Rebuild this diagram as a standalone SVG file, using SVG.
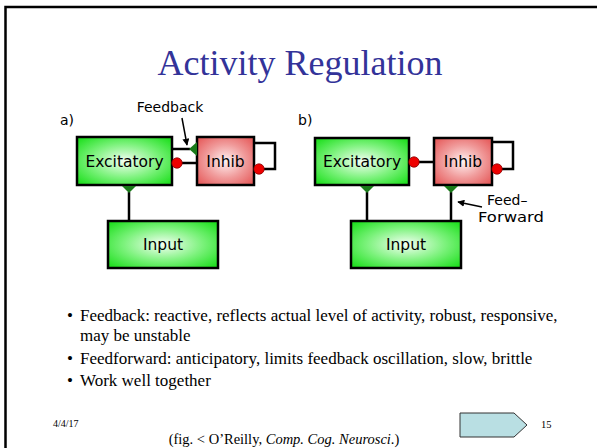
<svg xmlns="http://www.w3.org/2000/svg" width="597" height="448" viewBox="0 0 597 448">
<defs>
<radialGradient id="gG" cx="50%" cy="50%" r="65%">
<stop offset="0" stop-color="#f4fff4"/>
<stop offset="0.55" stop-color="#7cf27c"/>
<stop offset="1" stop-color="#22e022"/>
</radialGradient>
<radialGradient id="gR" cx="50%" cy="50%" r="65%">
<stop offset="0" stop-color="#fff2f2"/>
<stop offset="0.55" stop-color="#f09a9a"/>
<stop offset="1" stop-color="#e65c5c"/>
</radialGradient>
<marker id="ah" viewBox="0 0 10 10" refX="9" refY="5" markerWidth="7" markerHeight="7" orient="auto" markerUnits="userSpaceOnUse">
<path d="M0,0 L10,5 L0,10 Z" fill="#000"/>
</marker>
</defs>
<style>
.slide{font-family:"Liberation Serif","Times New Roman",serif;fill:#000}
.title{font-family:"Liberation Serif","Times New Roman",serif;font-size:36px;fill:#333399}
.lbl{font-family:"DejaVu Sans","Bitstream Vera Sans",sans-serif;fill:#000}
.box{stroke:#000;stroke-width:2.5}
.ln{stroke:#000;stroke-width:2.5;fill:none}
.tri{fill:#1a7a1a}
.dot{fill:#ee0000;stroke:#800;stroke-width:0.8}
</style>
<rect width="597" height="448" fill="#fff"/>
<path d="M5.5,448 V7 H597" fill="none" stroke="#000" stroke-width="2.5"/>
<text class="title" x="300" y="75" text-anchor="middle">Activity Regulation</text>

<!-- Panel a -->
<g id="a-connectors">
<path class="ln" d="M172,149 H190"/>
<path class="ln" d="M197,163 H181"/>
<path class="ln" d="M254,143 H275 V169 H264"/>
<path class="ln" d="M129,192 V221"/>
<path d="M182,118 L187,145" stroke="#000" stroke-width="1.5" marker-end="url(#ah)"/>
</g>
<g id="a-excitatory">
<rect class="box" x="77" y="137" width="95" height="48" fill="url(#gG)"/>
<text class="lbl" x="124.5" y="167" font-size="15.5" text-anchor="middle">Excitatory</text>
</g>
<g id="a-inhib">
<rect class="box" x="197" y="137" width="57" height="48" fill="url(#gR)"/>
<text class="lbl" x="225.5" y="167" font-size="15.5" text-anchor="middle">Inhib</text>
</g>
<g id="a-input">
<rect class="box" x="108" y="221" width="110" height="47" fill="url(#gG)"/>
<text class="lbl" x="163" y="250" font-size="15.5" text-anchor="middle">Input</text>
</g>
<g id="a-markers">
<path class="tri" d="M189,149 L197,142 L197,156 Z"/>
<path class="tri" d="M122,186 L136,186 L129,193 Z"/>
<circle class="dot" cx="177" cy="163" r="5.2"/>
<circle class="dot" cx="259" cy="169" r="5.2"/>
</g>
<text class="lbl" x="60" y="125" font-size="14">a)</text>
<text class="lbl" x="170" y="112" font-size="14" text-anchor="middle">Feedback</text>

<!-- Panel b -->
<g id="b-connectors">
<path class="ln" d="M434,162 H418"/>
<path class="ln" d="M492,142 H513 V169 H502"/>
<path class="ln" d="M367,192 V221"/>
<path class="ln" d="M451,192 V221"/>
<path d="M482,207 L458,202" stroke="#000" stroke-width="1.5" marker-end="url(#ah)"/>
</g>
<g id="b-excitatory">
<rect class="box" x="315" y="138" width="94" height="47" fill="url(#gG)"/>
<text class="lbl" x="362" y="167" font-size="15.5" text-anchor="middle">Excitatory</text>
</g>
<g id="b-inhib">
<rect class="box" x="434" y="138" width="58" height="47" fill="url(#gR)"/>
<text class="lbl" x="463" y="167" font-size="15.5" text-anchor="middle">Inhib</text>
</g>
<g id="b-input">
<rect class="box" x="351" y="221" width="110" height="47" fill="url(#gG)"/>
<text class="lbl" x="406" y="250" font-size="15.5" text-anchor="middle">Input</text>
</g>
<g id="b-markers">
<path class="tri" d="M360,186 L374,186 L367,193 Z"/>
<path class="tri" d="M444,186 L458,186 L451,193 Z"/>
<circle class="dot" cx="414" cy="162" r="5.2"/>
<circle class="dot" cx="497" cy="169" r="5.2"/>
</g>
<text class="lbl" x="298" y="125" font-size="14">b)</text>
<text class="lbl" x="487" y="205" font-size="14">Feed–</text>
<text class="lbl" x="478" y="222" font-size="14" textLength="66" lengthAdjust="spacingAndGlyphs">Forward</text>

<!-- Bullets -->
<g class="slide" font-size="17">
<text x="67" y="321">•</text>
<text x="80" y="321">Feedback: reactive, reflects actual level of activity, robust, responsive,</text>
<text x="80" y="341">may be unstable</text>
<text x="67" y="364">•</text>
<text x="80" y="364">Feedforward: anticipatory, limits feedback oscillation, slow, brittle</text>
<text x="67" y="386">•</text>
<text x="80" y="386">Work well together</text>
</g>
<text class="slide" x="53" y="427" font-size="10">4/4/17</text>
<text class="slide" x="284" y="444" font-size="14.5" text-anchor="middle">(fig. &lt; O’Reilly, <tspan font-style="italic">Comp. Cog. Neurosci</tspan>.)</text>
<path d="M460,413 H514 L527,425 L514,437 H460 Z" fill="#b9dfe3" stroke="#333" stroke-width="1"/>
<text class="slide" x="541" y="428" font-size="10.5">15</text>
</svg>
